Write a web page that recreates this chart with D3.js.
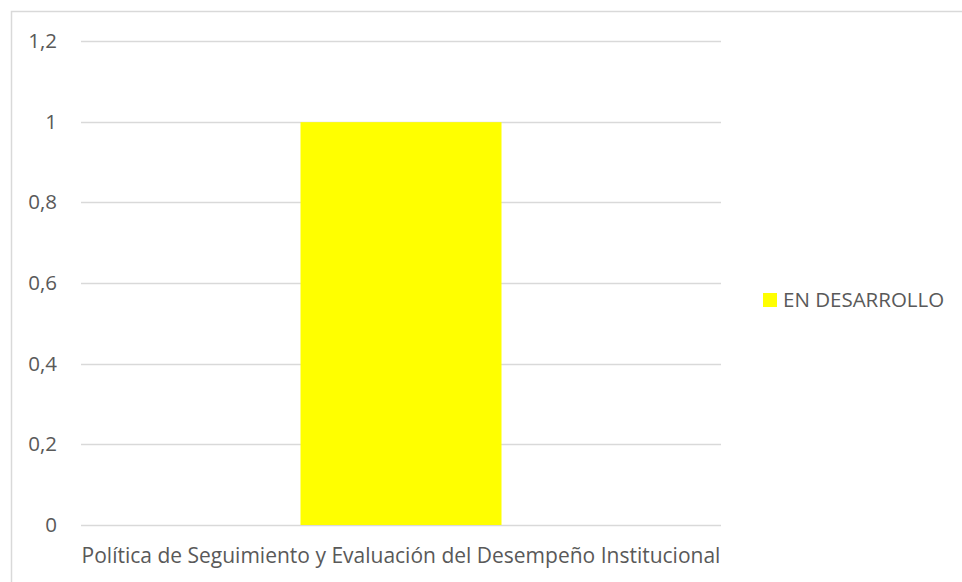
<!DOCTYPE html>
<html>
<head>
<meta charset="utf-8">
<script src="https://cdn.jsdelivr.net/npm/d3@7"></script>
<style>
  html, body { margin: 0; padding: 0; background: #fff; }
  svg { display: block; }
  text { font-family: "Open Sans", "Noto Sans", sans-serif; fill: #595959; }
</style>
</head>
<body>
<svg id="chart" width="962" height="582"></svg>
<script>
// Chart data
const categories = ["Política de Seguimiento y Evaluación del Desempeño Institucional"];
const seriesName = "EN DESARROLLO";
const seriesValues = [1];
const yTicks = [0, 0.2, 0.4, 0.6, 0.8, 1, 1.2];
const yTickLabels = ["0", "0,2", "0,4", "0,6", "0,8", "1", "1,2"];

const svg = d3.select("#chart");
const W = 962, H = 582;

// Outer chart frame
svg.append("rect")
  .attr("x", 11.5).attr("y", 11.5)
  .attr("width", W).attr("height", H)
  .attr("fill", "#fff").attr("stroke", "#d9d9d9").attr("stroke-width", 1.5);

const plot = { left: 81, right: 721, top: 41, bottom: 525 };

const x = d3.scaleBand()
  .domain(categories)
  .range([plot.left, plot.right])
  .paddingInner(0.626).paddingOuter(0.343);

const y = d3.scaleLinear()
  .domain([0, 1.2])
  .range([plot.bottom, plot.top]);

// Gridlines
svg.append("g")
  .selectAll("line")
  .data(yTicks)
  .join("line")
  .attr("x1", plot.left).attr("x2", plot.right)
  .attr("y1", d => Math.round(y(d)) + 0.5)
  .attr("y2", d => Math.round(y(d)) + 0.5)
  .attr("stroke", "#d9d9d9").attr("stroke-width", 1.5);

// Y tick labels
svg.append("g")
  .selectAll("text")
  .data(yTicks)
  .join("text")
  .attr("x", 57)
  .attr("y", d => y(d) + 7)
  .attr("text-anchor", "end")
  .attr("font-size", 20.5)
  .text((d, i) => yTickLabels[i]);

// Bars
const bw = 201;
svg.append("g")
  .selectAll("rect")
  .data(seriesValues)
  .join("rect")
  .attr("x", (d, i) => x(categories[i]) + x.bandwidth() / 2 - bw / 2)
  .attr("width", bw)
  .attr("y", d => y(d) + 0.5)
  .attr("height", d => y(0) - y(d) - 0.5)
  .attr("fill", "#ffff00");

// Category labels
svg.append("g")
  .selectAll("text")
  .data(categories)
  .join("text")
  .attr("x", d => x(d) + x.bandwidth() / 2)
  .attr("y", 563)
  .attr("text-anchor", "middle")
  .attr("font-size", 21)
  .text(d => d);

// Legend
const lg = svg.append("g").attr("transform", "translate(763,293)");
lg.append("rect").attr("width", 14).attr("height", 14).attr("fill", "#ffff00");
lg.append("text").attr("x", 20).attr("y", 14).attr("font-size", 20.5).text(seriesName);
</script>
</body>
</html>
